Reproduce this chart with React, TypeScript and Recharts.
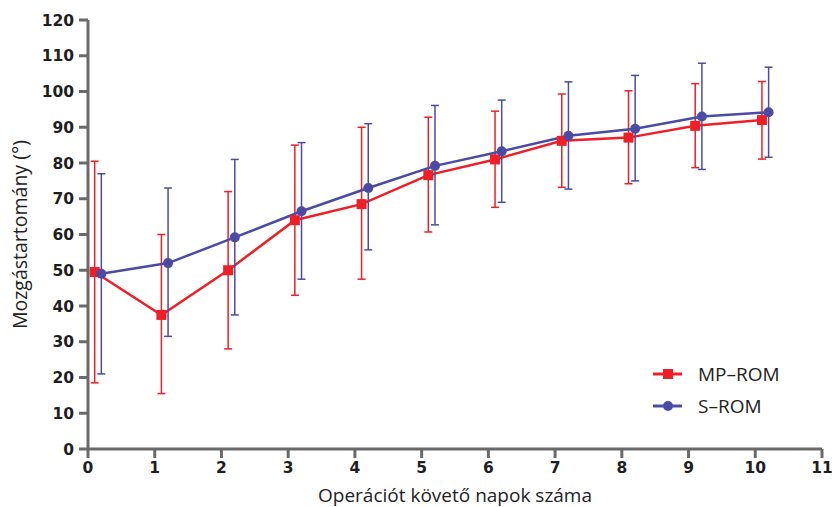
import React from "react";
import { ErrorBar, Line, LineChart, XAxis, YAxis } from "recharts";

const days = [0, 1, 2, 3, 4, 5, 6, 7, 8, 9, 10];
const xTicks = [0, 1, 2, 3, 4, 5, 6, 7, 8, 9, 10, 11];
const yTicks = [0, 10, 20, 30, 40, 50, 60, 70, 80, 90, 100, 110, 120];
const seriesNames = ["MP–ROM", "S–ROM"];

const mpMean = [49.5, 37.5, 50, 64, 68.5, 76.6, 81, 86.2, 87.1, 90.4, 92];
const mpUpper = [80.5, 60, 72, 85, 90, 92.8, 94.5, 99.3, 100.2, 102.2, 102.8];
const mpLower = [18.5, 15.5, 28, 43, 47.5, 60.7, 67.6, 73.2, 74.2, 78.7, 81.1];

const sMean = [49, 52, 59.2, 66.5, 73, 79.2, 83.3, 87.6, 89.6, 93, 94.2];
const sUpper = [77, 73, 81, 85.7, 91, 96.1, 97.6, 102.7, 104.5, 107.9, 106.8];
const sLower = [21, 31.5, 37.5, 47.5, 55.7, 62.7, 69, 72.7, 75, 78.2, 81.6];

const red = "#ee1f26";
const blue = "#4b4ba6";
const axisGrey = "#6a6a6a";
const textFont = "'Open Sans', 'Noto Sans', sans-serif";

const build = (mean: number[], upper: number[], lower: number[], shift: number) =>
  days.map((d, i) => ({
    x: d + shift,
    y: mean[i],
    err: [mean[i] - lower[i], upper[i] - mean[i]],
  }));

const mpData = build(mpMean, mpUpper, mpLower, 0.1);
const sData = build(sMean, sUpper, sLower, 0.2);

const SquareDot = (props: any) => {
  const { cx, cy } = props;
  if (cx == null || cy == null) return null;
  return <rect key={`sq-${cx}`} x={cx - 5} y={cy - 5} width={10} height={10} fill={red} />;
};

const RoundDot = (props: any) => {
  const { cx, cy } = props;
  if (cx == null || cy == null) return null;
  return <circle key={`ci-${cx}`} cx={cx} cy={cy} r={5} fill={blue} />;
};

// legend sits over the plot, outside recharts' layout so it doesn't push the axes
const LegendBox = () => (
  <svg width={170} height={76} style={{ position: "absolute", left: 653, top: 354, overflow: "visible" }}>
    <line x1={0} y1={20} x2={29} y2={20} stroke={red} strokeWidth={3} />
    <rect x={10} y={15} width={10} height={10} fill={red} />
    <text x={45} y={27} fontSize={19} fontFamily={textFont} fill="#222">
      {seriesNames[0]}
    </text>
    <line x1={0} y1={52} x2={29} y2={52} stroke={blue} strokeWidth={3} />
    <circle cx={15} cy={52} r={5} fill={blue} />
    <text x={45} y={59} fontSize={19} fontFamily={textFont} fill="#222">
      {seriesNames[1]}
    </text>
  </svg>
);

const tickStyle = {
  fontSize: 15.5,
  fontWeight: 700,
  fill: "#1e1e1e",
  fontFamily: "'DejaVu Sans', sans-serif",
};

export default function App() {
  return (
    <div style={{ position: "absolute", left: 0, top: 0, width: 832, height: 507, background: "#fff" }}>
      <LineChart width={832} height={507} margin={{ top: 20, right: 10, bottom: 0, left: 0 }}>
        <XAxis
          type="number"
          dataKey="x"
          domain={[0, 11]}
          ticks={xTicks}
          interval={0}
          height={58}
          stroke={axisGrey}
          strokeWidth={3}
          tickSize={9}
          tickMargin={4}
          tick={tickStyle}
          label={{
            value: "Operációt követő napok száma",
            position: "insideBottom",
            offset: 5,
            style: { fontSize: 19, fill: "#222", fontFamily: textFont },
          }}
        />
        <YAxis
          type="number"
          domain={[0, 120]}
          ticks={yTicks}
          interval={0}
          width={88}
          stroke={axisGrey}
          strokeWidth={3}
          tickSize={9}
          tickMargin={5}
          tick={tickStyle}
          label={{
            value: "Mozgástartomány (°)",
            angle: -90,
            position: "insideLeft",
            offset: 20,
            style: { textAnchor: "middle", fontSize: 19.5, fill: "#222", fontFamily: textFont },
          }}
        />
        <Line
          data={mpData}
          dataKey="y"
          name={seriesNames[0]}
          stroke={red}
          strokeWidth={2.5}
          dot={SquareDot}
          activeDot={false}
          isAnimationActive={false}
        >
          <ErrorBar dataKey="err" direction="y" width={4} stroke={red} strokeWidth={1.5} isAnimationActive={false} />
        </Line>
        <Line
          data={sData}
          dataKey="y"
          name={seriesNames[1]}
          stroke={blue}
          strokeWidth={2.5}
          dot={RoundDot}
          activeDot={false}
          isAnimationActive={false}
        >
          <ErrorBar dataKey="err" direction="y" width={4} stroke={blue} strokeWidth={1.5} isAnimationActive={false} />
        </Line>
      </LineChart>
      <LegendBox />
    </div>
  );
}
